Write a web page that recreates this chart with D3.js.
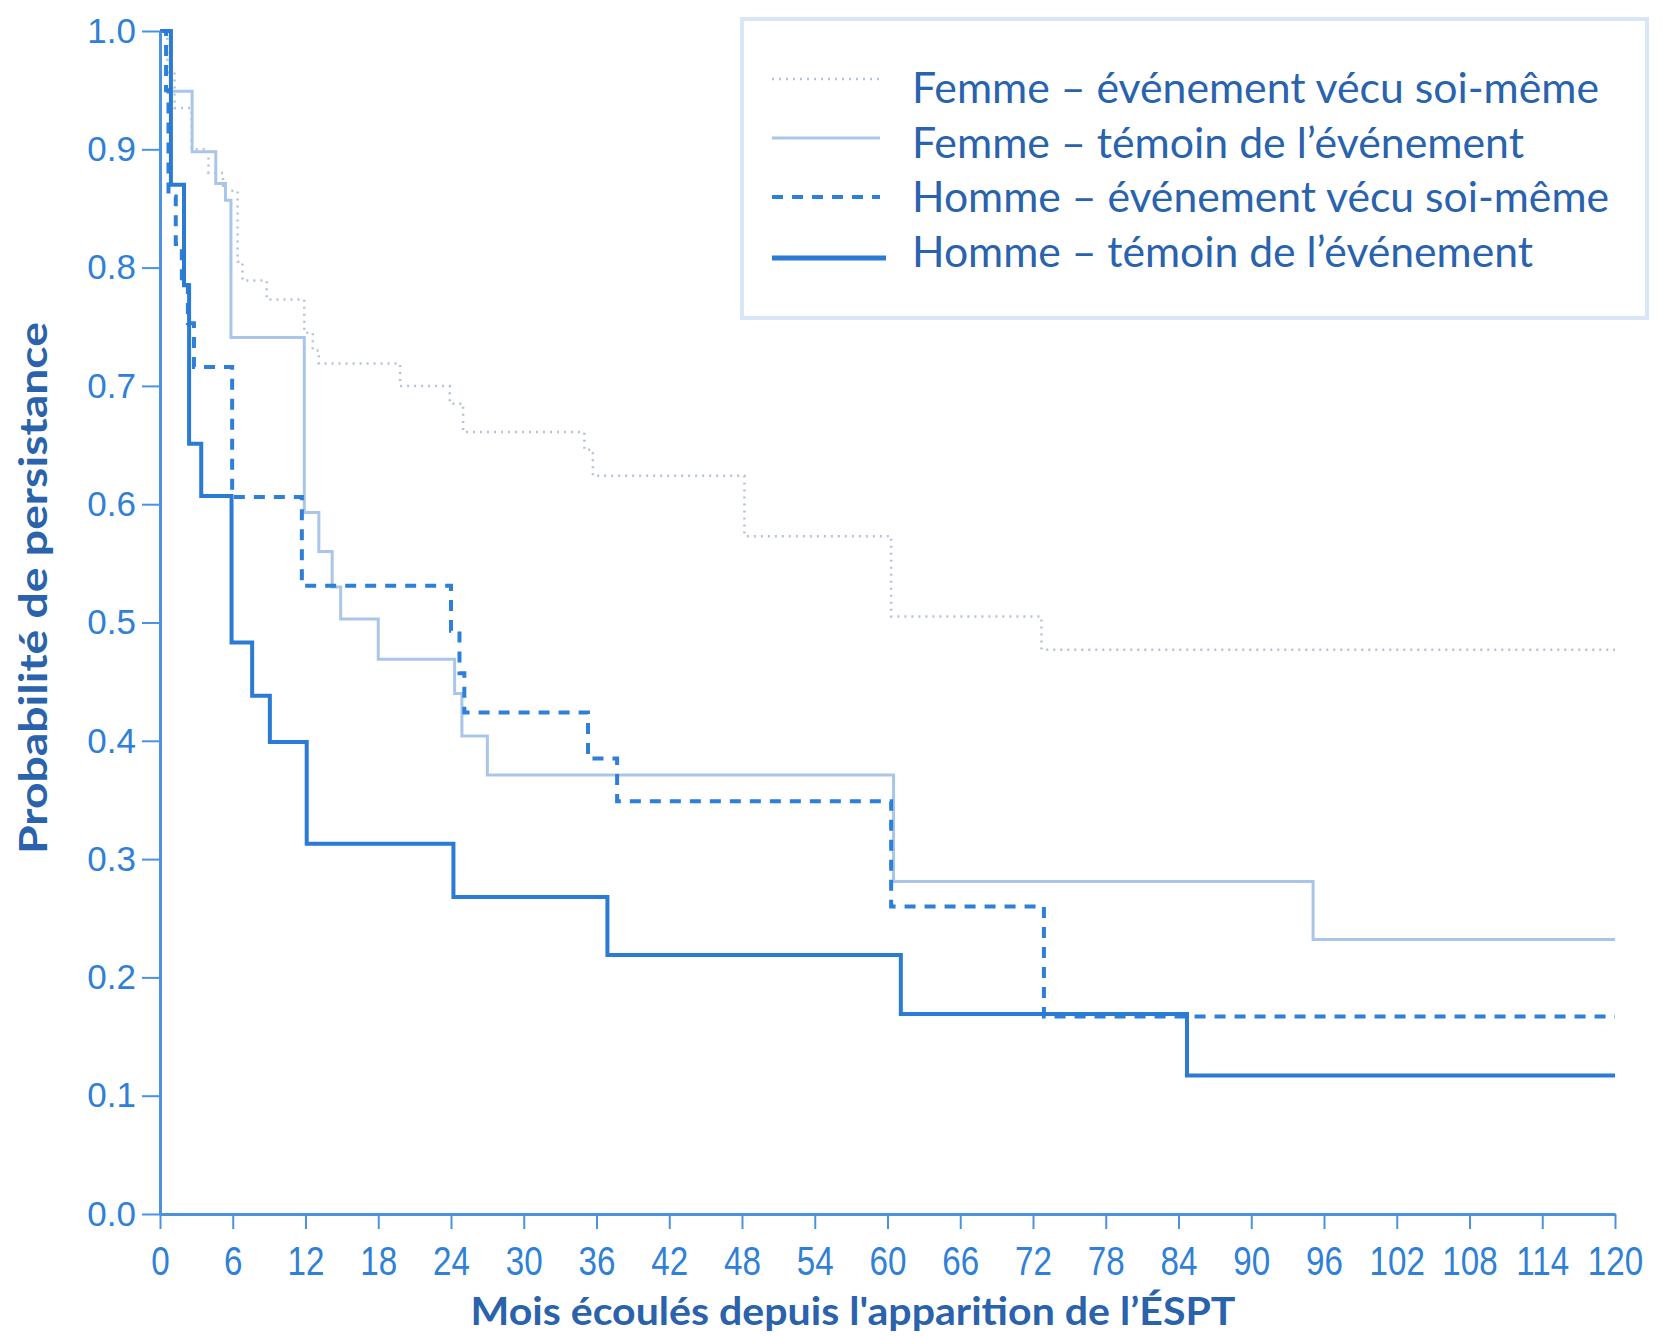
<!DOCTYPE html>
<html>
<head>
<meta charset="utf-8">
<script src="https://cdn.jsdelivr.net/npm/d3@7"></script>
<style>
  html, body { margin: 0; padding: 0; background: #ffffff; }
  svg { display: block; }
</style>
</head>
<body>
<svg id="chart" width="1663" height="1336"></svg>
<script>
// ---- Data (Kaplan–Meier step curves: [month, survival probability]) ----
const seriesNames = [
  "Femme – événement vécu soi-même",
  "Femme – témoin de l’événement",
  "Homme – événement vécu soi-même",
  "Homme – témoin de l’événement"
];

const femmeVecu = [
  [0, 1.0], [0.6, 0.965], [1.2, 0.935], [2.6, 0.90], [4.0, 0.88], [5.2, 0.865],
  [6.4, 0.805], [6.8, 0.789], [8.8, 0.773], [11.9, 0.745], [12.6, 0.73],
  [13.1, 0.719], [19.8, 0.70], [23.9, 0.685], [25.0, 0.661], [35.0, 0.646],
  [35.7, 0.624], [48.2, 0.573], [60.3, 0.505], [72.7, 0.477], [120, 0.477]
];

const femmeTemoin = [
  [0, 1.0], [0.9, 0.949], [2.65, 0.898], [4.6, 0.871], [5.4, 0.857],
  [5.85, 0.741], [11.9, 0.593], [13.1, 0.56], [14.2, 0.53], [14.9, 0.503],
  [18.0, 0.469], [24.3, 0.44], [24.9, 0.404], [27.0, 0.371], [60.5, 0.281],
  [95.1, 0.232], [120, 0.232]
];

const hommeVecu = [
  [0, 1.0], [0.5, 0.95], [0.7, 0.86], [1.3, 0.82], [1.8, 0.787], [2.3, 0.753],
  [2.8, 0.716], [5.95, 0.606], [11.7, 0.531], [24.0, 0.493], [24.7, 0.457],
  [25.1, 0.424], [35.3, 0.385], [37.7, 0.349], [60.3, 0.26], [72.9, 0.167],
  [120, 0.167]
];

const hommeTemoin = [
  [0, 1.0], [0.9, 0.87], [1.98, 0.785], [2.4, 0.651], [3.4, 0.607],
  [5.9, 0.483], [7.6, 0.438], [9.06, 0.399], [12.1, 0.313], [24.2, 0.268],
  [36.9, 0.219], [61.1, 0.169], [84.7, 0.117], [120, 0.117]
];

const xTicks = [0, 6, 12, 18, 24, 30, 36, 42, 48, 54, 60, 66, 72, 78, 84, 90, 96, 102, 108, 114, 120];
const yTicks = [0.0, 0.1, 0.2, 0.3, 0.4, 0.5, 0.6, 0.7, 0.8, 0.9, 1.0];

const xTitle = "Mois écoulés depuis l'apparition de l’ÉSPT";
const yTitle = "Probabilité de persistance";

// ---- Styles ----
const styles = [
  { data: femmeVecu,   color: "#b4c2d8", width: 2.5, dash: "2,5" },
  { data: femmeTemoin, color: "#a9c6ea", width: 3,   dash: null },
  { data: hommeVecu,   color: "#2e7fd8", width: 4,   dash: "11,9" },
  { data: hommeTemoin, color: "#2b7ad4", width: 4,   dash: null }
];

const axisColor = "#4b93de";
const tickTextColor = "#2f80d6";
const titleColor = "#2a62ac";

const svg = d3.select("#chart");

const x = d3.scaleLinear().domain([0, 120]).range([160, 1615]);
const y = d3.scaleLinear().domain([0, 1]).range([1214, 31]);

// ---- Curves ----
const line = d3.line()
  .x(d => x(d[0]))
  .y(d => y(d[1]))
  .curve(d3.curveStepAfter);

const gCurves = svg.append("g");
styles.forEach(s => {
  gCurves.append("path")
    .datum(s.data)
    .attr("d", line)
    .attr("fill", "none")
    .attr("stroke", s.color)
    .attr("stroke-width", s.width)
    .attr("stroke-dasharray", s.dash)
    .attr("stroke-linejoin", "miter");
});

// ---- Axes ----
const xAxis = d3.axisBottom(x).tickValues(xTicks).tickSize(15).tickSizeOuter(0).tickPadding(18)
  .tickFormat(d3.format("d"));
const gx = svg.append("g").attr("transform", `translate(0,${y(0)})`).call(xAxis);
gx.select(".domain").attr("stroke", axisColor).attr("stroke-width", 3);
gx.selectAll(".tick line").attr("stroke", axisColor).attr("stroke-width", 2);
gx.selectAll(".tick text")
  .attr("fill", tickTextColor)
  .attr("font-family", "'Liberation Sans', Arial, sans-serif")
  .attr("font-size", 40)
  .attr("transform", "scale(0.83,1)");

const yAxis = d3.axisLeft(y).tickValues(yTicks).tickSize(18).tickSizeOuter(0).tickPadding(6)
  .tickFormat(d3.format(".1f"));
const gy = svg.append("g").attr("transform", `translate(${x(0)},0)`).call(yAxis);
gy.select(".domain").attr("stroke", axisColor).attr("stroke-width", 3);
gy.selectAll(".tick line").attr("stroke", axisColor).attr("stroke-width", 2);
gy.selectAll(".tick text")
  .attr("fill", tickTextColor)
  .attr("font-family", "'Liberation Sans', Arial, sans-serif")
  .attr("font-size", 35);

// ---- Axis titles ----
svg.append("text")
  .attr("x", 853).attr("y", 1325)
  .attr("text-anchor", "middle")
  .attr("font-family", "Lato, 'Open Sans', sans-serif")
  .attr("font-weight", "bold")
  .attr("font-size", 39)
  .attr("fill", titleColor)
  .attr("textLength", 765).attr("lengthAdjust", "spacingAndGlyphs")
  .text(xTitle);

svg.append("text")
  .attr("transform", "translate(47,588) rotate(-90)")
  .attr("text-anchor", "middle")
  .attr("font-family", "Lato, 'Open Sans', sans-serif")
  .attr("font-weight", "bold")
  .attr("font-size", 39)
  .attr("fill", titleColor)
  .attr("textLength", 532).attr("lengthAdjust", "spacingAndGlyphs")
  .text(yTitle);

// ---- Legend ----
const legend = svg.append("g");
legend.append("rect")
  .attr("x", 742).attr("y", 19).attr("width", 905).attr("height", 299)
  .attr("fill", "#ffffff")
  .attr("stroke", "#d9e6f6").attr("stroke-width", 4);

const legendLineY = [79, 138, 197, 258];
const legendTextY = [103, 158, 212, 267];
const legendTextW = [687, 612, 697, 621];

styles.forEach((s, i) => {
  legend.append("line")
    .attr("x1", 772).attr("x2", i === 3 ? 886 : 880)
    .attr("y1", legendLineY[i]).attr("y2", legendLineY[i])
    .attr("stroke", s.color)
    .attr("stroke-width", s.width + (i === 3 ? 1 : 0))
    .attr("stroke-dasharray", s.dash);
  legend.append("text")
    .attr("x", 912).attr("y", legendTextY[i])
    .attr("font-family", "Lato, 'Open Sans', sans-serif")
    .attr("font-size", 43)
    .attr("fill", "#2962ad")
    .attr("textLength", legendTextW[i]).attr("lengthAdjust", "spacingAndGlyphs")
    .text(seriesNames[i]);
});
</script>
</body>
</html>
